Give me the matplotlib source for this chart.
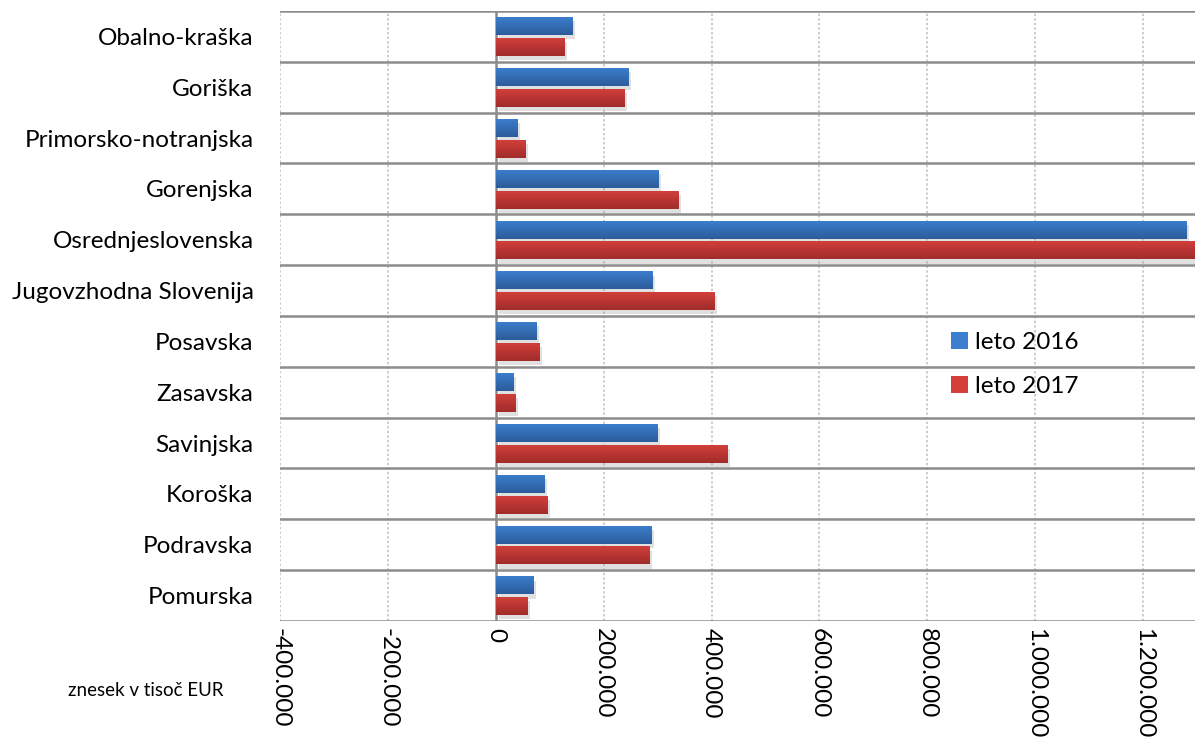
import numpy as np
import matplotlib
matplotlib.use("Agg")
import matplotlib.pyplot as plt
import matplotlib.ticker as mticker
import matplotlib.patheffects as pe
from matplotlib.colors import LinearSegmentedColormap

plt.rcParams['font.family'] = ['Lato', 'DejaVu Sans']

# regions, top to bottom
regions = ["Obalno-kraška", "Goriška", "Primorsko-notranjska", "Gorenjska",
           "Osrednjeslovenska", "Jugovzhodna Slovenija", "Posavska", "Zasavska",
           "Savinjska", "Koroška", "Podravska", "Pomurska"]
# amounts in thousand EUR
leto_2016 = [142000, 245000, 40000, 301000, 1280000, 290000,
             75000, 33000, 299000, 90000, 288000, 70000]
leto_2017 = [127000, 238000, 55000, 338000, 1340000, 405000,
             81000, 36000, 429000, 96000, 285000, 59000]
xticks = [-400000, -200000, 0, 200000, 400000, 600000, 800000, 1000000, 1200000]

blue_top, blue_bot = "#3d7fcf", "#2b5c9a"
red_top, red_bot = "#d4403c", "#a02c2a"

fig = plt.figure(figsize=(11.95, 7.47), dpi=100)
ax = fig.add_axes([0.2343, 0.1687, 0.7657, 0.8166])

y = np.arange(len(regions))
h = 0.355
shadow = [pe.SimplePatchShadow(offset=(2, -3), shadow_rgbFace="#999999", alpha=0.3), pe.Normal()]
b1 = ax.barh(y - 0.2, leto_2016, height=h, color=blue_top, zorder=3, label="leto 2016")
b2 = ax.barh(y + 0.21, leto_2017, height=h, color=red_top, zorder=3, label="leto 2017")

def grad_fill(bars, top, bot):
    cmap = LinearSegmentedColormap.from_list("g", [top, bot])
    grad = np.linspace(0, 1, 64).reshape(-1, 1)
    for p in bars:
        p.set_path_effects(shadow)
        x0, y0 = p.get_x(), p.get_y()
        w, hh = p.get_width(), p.get_height()
        im = ax.imshow(grad, cmap=cmap, aspect="auto", zorder=4,
                       extent=[x0, x0 + w, y0 + hh, y0], origin="upper")
        im.set_clip_path(p)

grad_fill(b1, blue_top, blue_bot)
grad_fill(b2, red_top, red_bot)

ax.set_xlim(-400000, 1296000)
ax.set_ylim(len(regions) - 0.5, -0.5)
ax.set_yticks(y)
ax.set_yticklabels(regions, fontsize=17.5)
ax.set_xticks(xticks)
ax.xaxis.set_major_formatter(mticker.FuncFormatter(lambda v, p: f"{int(v):,}".replace(",", ".")))
for lab in ax.get_xticklabels():
    lab.set_rotation(270)
    lab.set_fontsize(17.5)
    lab.set_va("top")
    lab.set_ha("center")
ax.tick_params(axis="y", length=0, pad=19)
ax.tick_params(axis="x", length=0, pad=5)

# grid
for xv in xticks:
    if xv == 0:
        ax.axvline(0, color="#8a8a8a", lw=1.8, zorder=2)
    else:
        ax.axvline(xv, color="#bdbdbd", lw=1.1, ls=(0, (1.5, 1.5)), zorder=1)
for k in range(len(regions) + 1):
    ax.axhline(k - 0.5, color="#8c8c8c", lw=1.8, zorder=2)

for s in ax.spines.values():
    s.set_visible(False)

leg = ax.legend(loc="upper left", bbox_to_anchor=(0.733, 0.474), frameon=False,
                fontsize=17.5, handlelength=0.7, handleheight=0.7,
                handletextpad=0.3, labelspacing=0.95, borderpad=0, borderaxespad=0)
for hnd in leg.legend_handles:
    hnd.set_path_effects([])

fig.text(0.057, 0.076, "znesek v tisoč EUR", fontsize=13.5, ha="left", va="center")

fig.savefig("out.png", dpi=100)
